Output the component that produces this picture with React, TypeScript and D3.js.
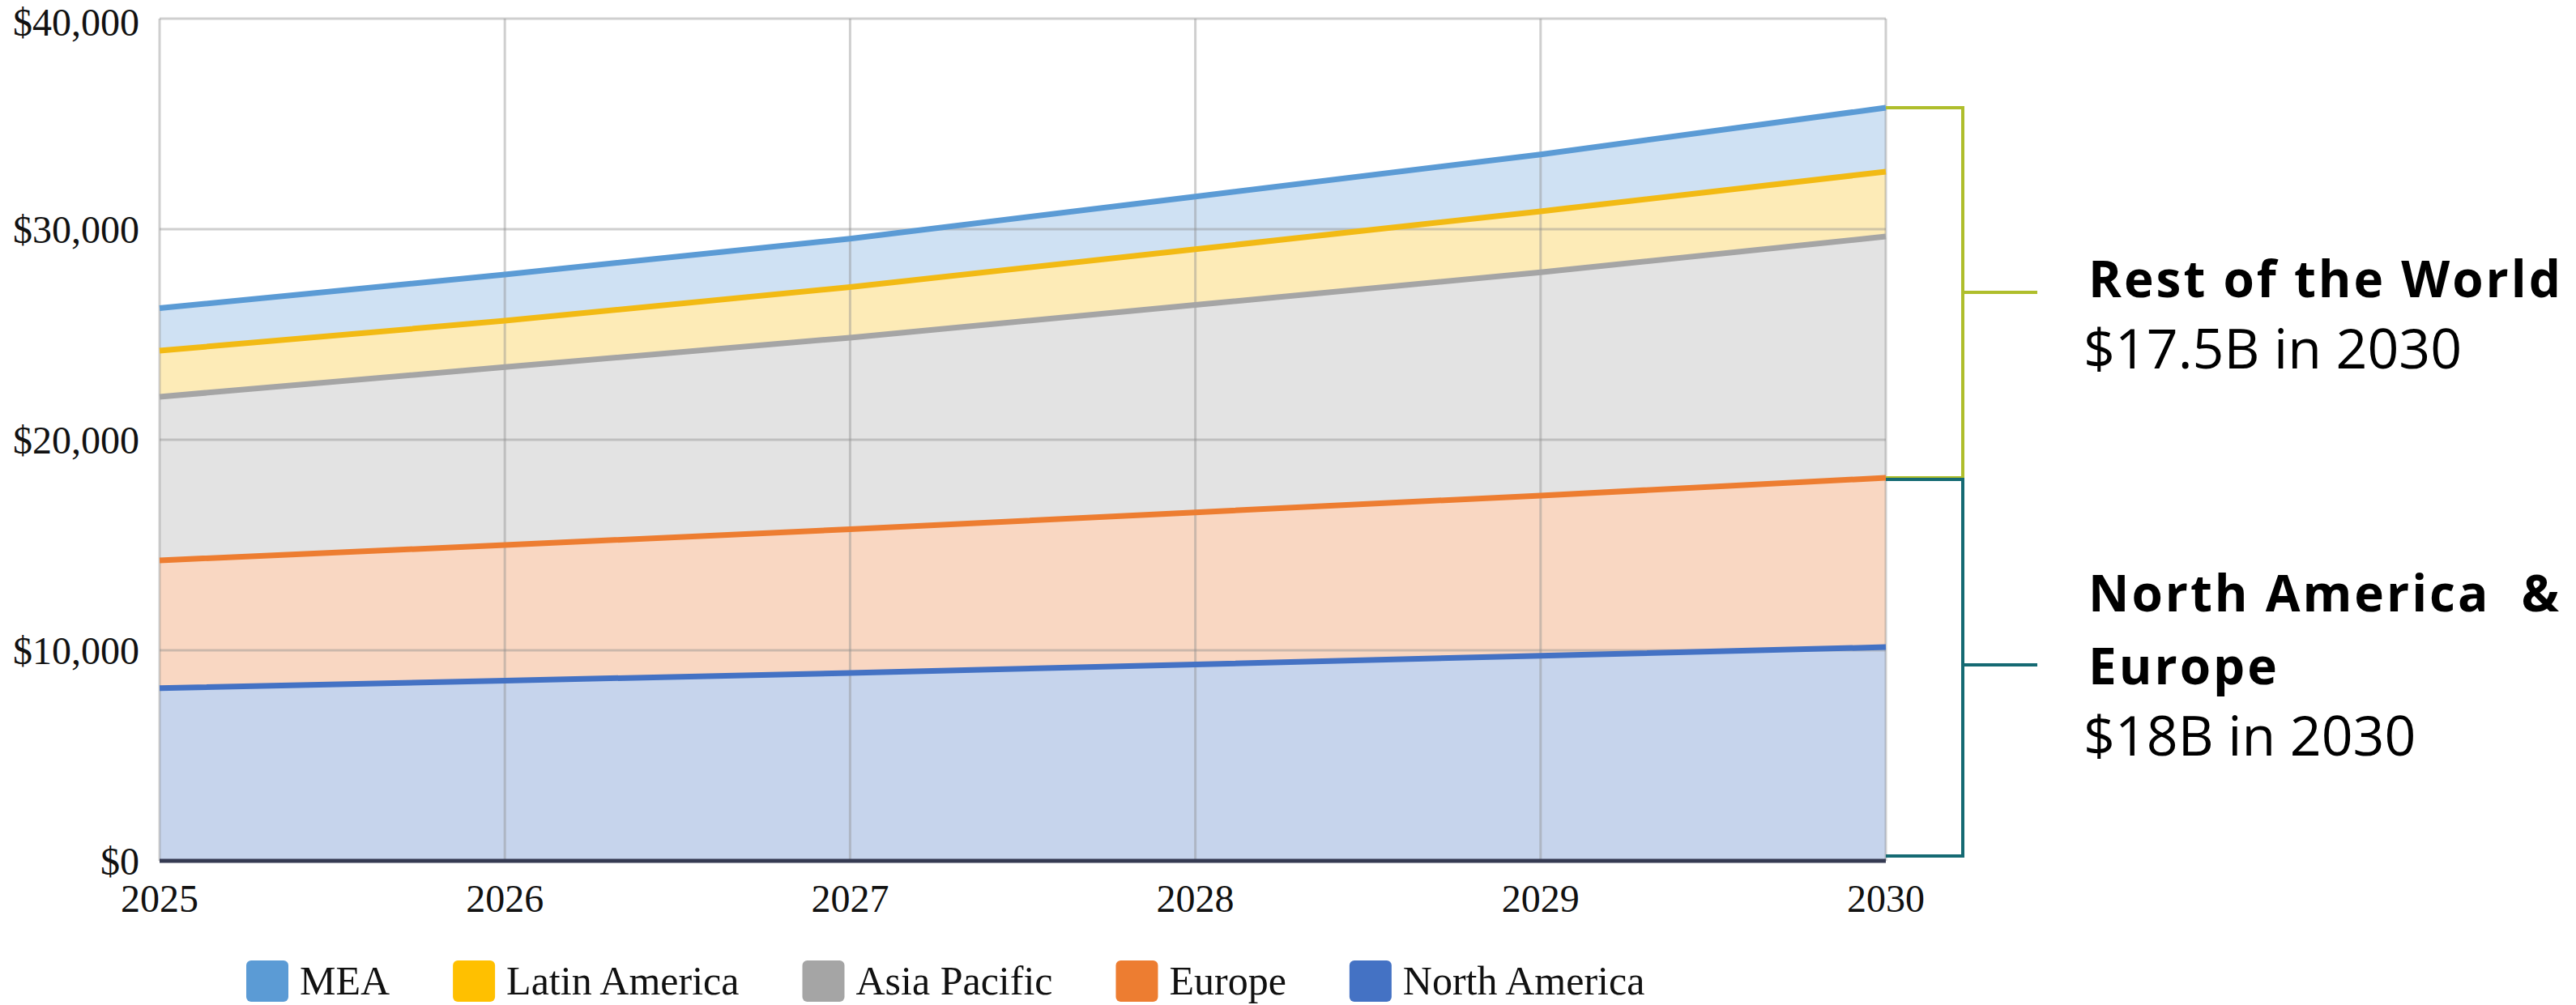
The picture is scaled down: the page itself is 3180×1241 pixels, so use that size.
import React, { useEffect, useRef } from "react";
import * as d3 from "d3";

const years = [2025, 2026, 2027, 2028, 2029, 2030];
const northAmerica = [8200, 8560, 8920, 9330, 9740, 10150];
const europe = [6070, 6440, 6830, 7220, 7610, 8040];
const asiaPacific = [7770, 8450, 9100, 9850, 10600, 11460];
const latinAmerica = [2190, 2200, 2400, 2650, 2900, 3080];
const mea = [2020, 2200, 2300, 2500, 2700, 3040];

const yTicks = [0, 10000, 20000, 30000, 40000];

const seriesNames = ["North America", "Europe", "Asia Pacific", "Latin America", "MEA"];
const seriesValues = [northAmerica, europe, asiaPacific, latinAmerica, mea];
const lineColors = ["#4472C4", "#ED7D31", "#A5A5A5", "#F2BA14", "#5B9BD5"];
const fillColors = ["#C6D4EC", "#F9D7C2", "#E3E3E3", "#FDEBB7", "#CFE1F3"];
const legendOrder = ["MEA", "Latin America", "Asia Pacific", "Europe", "North America"];
const legendColors = ["#5B9BD5", "#FFC000", "#A5A5A5", "#ED7D31", "#4472C4"];

const annotations = [
  { title: ["Rest of the World"], sub: "$17.5B in 2030" },
  { title: ["North America  &", "Europe"], sub: "$18B in 2030" },
];

export default function App() {
  const ref = useRef<SVGSVGElement>(null);

  useEffect(() => {
    const svg = d3.select(ref.current);
    svg.selectAll("*").remove();
    const W = 3180, H = 1241;
    const left = 197, right = 2328, top = 23, bottom = 1063;

    const x = d3.scaleLinear().domain([2025, 2030]).range([left, right]);
    const y = d3.scaleLinear().domain([0, 40000]).range([bottom, top]);

    const rows = years.map((yr, i) => {
      const r: any = { year: yr };
      seriesNames.forEach((n, k) => (r[n] = seriesValues[k][i]));
      return r;
    });
    const stacked = d3.stack().keys(seriesNames)(rows);

    svg.append("rect").attr("width", W).attr("height", H).attr("fill", "#fff");

    const area = d3
      .area<any>()
      .x((d) => x(d.data.year))
      .y0((d) => y(d[0]))
      .y1((d) => y(d[1]));
    const line = d3
      .line<any>()
      .x((d) => x(d.data.year))
      .y((d) => y(d[1]));

    stacked.forEach((s, k) => {
      svg.append("path").attr("d", area(s as any)).attr("fill", fillColors[k]);
    });

    const grid = svg.append("g").attr("stroke", "rgba(140,140,140,0.42)").attr("stroke-width", 3);
    yTicks.forEach((t) => {
      if (t === 0) return;
      grid.append("line").attr("x1", left).attr("x2", right).attr("y1", y(t)).attr("y2", y(t));
    });
    years.forEach((yr) => {
      grid.append("line").attr("x1", x(yr)).attr("x2", x(yr)).attr("y1", top).attr("y2", bottom);
    });

    stacked.forEach((s, k) => {
      svg
        .append("path")
        .attr("d", line(s as any))
        .attr("fill", "none")
        .attr("stroke", lineColors[k])
        .attr("stroke-width", 7);
    });

    svg
      .append("line")
      .attr("x1", left)
      .attr("x2", right)
      .attr("y1", bottom)
      .attr("y2", bottom)
      .attr("stroke", "#353a52")
      .attr("stroke-width", 5);

    const serif = "'Liberation Serif', 'Times New Roman', serif";
    const fmt = (v: number) => "$" + d3.format(",")(v);
    yTicks.forEach((t) => {
      svg
        .append("text")
        .attr("x", 172)
        .attr("y", Math.max(y(t) + 17, 44))
        .attr("text-anchor", "end")
        .attr("font-family", serif)
        .attr("font-size", 48)
        .attr("fill", "#111")
        .text(fmt(t));
    });
    years.forEach((yr) => {
      svg
        .append("text")
        .attr("x", x(yr))
        .attr("y", 1126)
        .attr("text-anchor", "middle")
        .attr("font-family", serif)
        .attr("font-size", 48)
        .attr("fill", "#111")
        .text(String(yr));
    });

    let lx = 304;
    legendOrder.forEach((name, i) => {
      const g = svg.append("g");
      g.append("rect")
        .attr("x", lx)
        .attr("y", 1186)
        .attr("width", 52)
        .attr("height", 51)
        .attr("rx", 6)
        .attr("fill", legendColors[i]);
      const t = g
        .append("text")
        .attr("x", lx + 66)
        .attr("y", 1228)
        .attr("font-family", serif)
        .attr("font-size", 50)
        .attr("fill", "#111")
        .text(name);
      const w = (t.node() as SVGTextElement).getComputedTextLength();
      lx = lx + 66 + w + 78;
    });

    const total2030 = d3.sum(seriesValues, (s) => s[5]);
    const naeu2030 = northAmerica[5] + europe[5];
    const bx = 2423;
    const green = "#AFBE2C";
    const teal = "#156A73";
    svg
      .append("path")
      .attr("d", `M${right},${y(total2030)} H${bx} V${y(naeu2030)} H${right} M${bx},361 H2515`)
      .attr("fill", "none")
      .attr("stroke", green)
      .attr("stroke-width", 4);
    svg
      .append("path")
      .attr("d", `M${right},${y(naeu2030) + 2} H${bx} V${bottom - 6} H${right} M${bx},821 H2515`)
      .attr("fill", "none")
      .attr("stroke", teal)
      .attr("stroke-width", 4);

    const sans = "'Open Sans', 'Noto Sans', sans-serif";
    const ann = [
      { lines: annotations[0].title, sub: annotations[0].sub, y0: 367 },
      { lines: annotations[1].title, sub: annotations[1].sub, y0: 755 },
    ];
    ann.forEach((a) => {
      let yy = a.y0;
      a.lines.forEach((l) => {
        svg
          .append("text")
          .attr("x", 2578)
          .attr("y", yy)
          .attr("font-family", sans)
          .attr("font-weight", 700)
          .attr("font-size", 62)
          .attr("letter-spacing", 3)
          .attr("fill", "#000")
          .style("white-space", "pre")
          .text(l);
        yy += 90;
      });
      svg
        .append("text")
        .attr("x", 2572)
        .attr("y", yy - 2)
        .attr("font-family", sans)
        .attr("font-size", 68)
        .attr("fill", "#000")
        .text(a.sub);
    });
  }, []);

  return (
    <svg
      ref={ref}
      width={3180}
      height={1241}
      style={{ position: "absolute", left: 0, top: 0, display: "block" }}
    />
  );
}
